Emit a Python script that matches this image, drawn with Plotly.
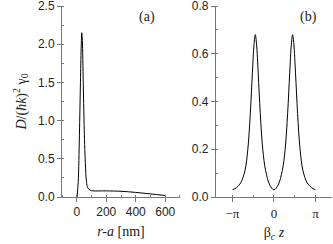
import plotly.graph_objects as go

# Panel (a): D/(hbar k)^2 gamma0 vs r-a [nm]
xa = [2, 10, 18, 25, 30, 34, 38, 44, 50, 58, 66, 75, 90, 110, 150, 200, 300, 400, 500, 600]
ya = [0.0, 0.2, 0.8, 1.5, 1.95, 2.15, 2.05, 1.5, 0.95, 0.45, 0.2, 0.12, 0.09, 0.08, 0.08, 0.08, 0.075, 0.06, 0.04, 0.02]

# Panel (b): vs beta_c z (in units of pi)
xb = [-1.0, -0.9, -0.8, -0.7, -0.63, -0.57, -0.52, -0.48, -0.45, -0.42, -0.38, -0.33, -0.27, -0.2, -0.1, 0.0,
      0.1, 0.2, 0.27, 0.33, 0.38, 0.42, 0.45, 0.48, 0.52, 0.57, 0.63, 0.7, 0.8, 0.9, 1.0]
yb = [0.03, 0.04, 0.06, 0.11, 0.2, 0.35, 0.52, 0.64, 0.68, 0.64, 0.52, 0.35, 0.2, 0.11, 0.05, 0.03,
      0.05, 0.11, 0.2, 0.35, 0.52, 0.64, 0.68, 0.64, 0.52, 0.35, 0.2, 0.11, 0.06, 0.04, 0.03]

xb_ticks = [-1, 0, 1]
xb_labels = ["\u2212\u03c0", "0", "\u03c0"]

fig = go.Figure()
fig.add_trace(go.Scatter(x=xa, y=ya, mode="lines", line=dict(color="black", width=1, shape="spline"),
                         xaxis="x", yaxis="y", showlegend=False))
fig.add_trace(go.Scatter(x=xb, y=yb, mode="lines", line=dict(color="black", width=1, shape="spline"),
                         xaxis="x2", yaxis="y2", showlegend=False))

axcol = "#777777"
numfont = dict(family="Liberation Sans, Arial, sans-serif", size=12, color="#222222")
serif = "Liberation Serif, Times New Roman, serif"

common = dict(showgrid=False, zeroline=False, showline=True, linecolor=axcol, linewidth=1,
              ticks="outside", ticklen=4, tickcolor=axcol, automargin=False, ticklabeloverflow="allow")

fig.update_layout(
    width=333, height=244,
    margin=dict(l=62, r=1, t=6, b=47),
    paper_bgcolor="white", plot_bgcolor="white",
    xaxis=dict(domain=[0, 0.437], range=[-100, 700], tickvals=[0, 200, 400, 600], tickfont=numfont,
               minor=dict(ticks="inside", ticklen=2, dtick=100, tickcolor=axcol),
               title=dict(text="<i>r-a</i> [nm]", font=dict(family=serif, size=14, color="#222"), standoff=7),
               anchor="y", **common),
    yaxis=dict(domain=[0, 1], range=[0, 2.5], tickvals=[0, 0.5, 1.0, 1.5, 2.0, 2.5], tickformat=".1f", tickfont=numfont,
               minor=dict(ticks="inside", ticklen=2, dtick=0.25, tickcolor=axcol),
               title=dict(text="<i>D</i>/(<i>\u0127k</i>)<sup>2</sup> \u03b3<sub>0</sub>",
                          font=dict(family=serif, size=14, color="#222"), standoff=8),
               anchor="x", **common),
    xaxis2=dict(domain=[0.570, 1], range=[-1.4, 1.4], tickvals=xb_ticks, ticktext=xb_labels,
                tickfont=dict(family=serif, size=13, color="#222"),
                minor=dict(ticks="inside", ticklen=2, dtick=0.5, tickcolor=axcol),
                title=dict(text="\u03b2<sub><i>c</i></sub> <i>z</i>", font=dict(family=serif, size=14, color="#222"), standoff=7),
                anchor="y2", **common),
    yaxis2=dict(domain=[0, 1], range=[0, 0.8], tickvals=[0, 0.2, 0.4, 0.6, 0.8], tickformat=".1f", tickfont=numfont,
                minor=dict(ticks="inside", ticklen=2, dtick=0.1, tickcolor=axcol),
                anchor="x2", **common),
    annotations=[
        dict(text="(a)", x=0.352, y=0.995, xref="paper", yref="paper", showarrow=False,
             xanchor="right", yanchor="top", font=dict(family=serif, size=14, color="#222")),
        dict(text="(b)", x=0.952, y=0.995, xref="paper", yref="paper", showarrow=False,
             xanchor="right", yanchor="top", font=dict(family=serif, size=14, color="#222")),
    ],
)

fig.write_html("out.html", config={"displayModeBar": False},
               post_script="document.body.style.margin='0';document.body.style.overflow='hidden';")
